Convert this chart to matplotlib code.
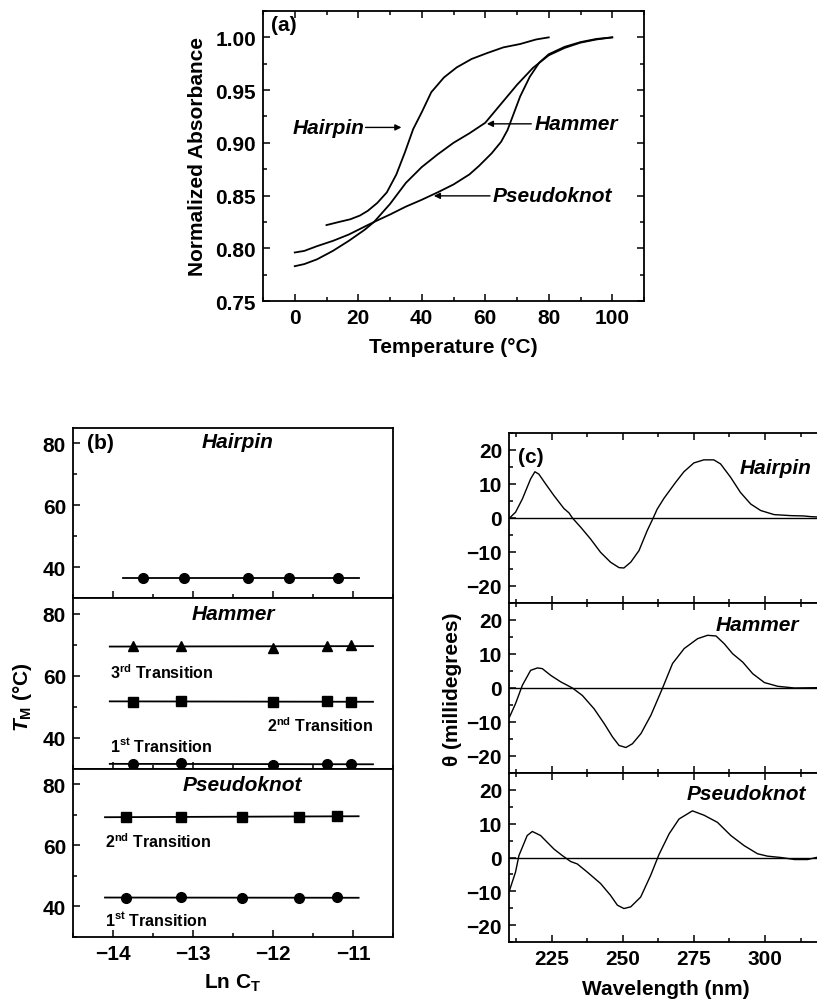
import matplotlib
matplotlib.use("Agg")
import matplotlib.pyplot as plt
import numpy as np
from matplotlib.ticker import MultipleLocator, FormatStrFormatter

plt.rcParams.update({
    "font.family": ["Liberation Sans", "DejaVu Sans"],
    "font.weight": "bold",
    "axes.labelweight": "bold",
    "font.size": 15,
    "mathtext.fontset": "custom",
    "mathtext.rm": "Liberation Sans:bold",
    "mathtext.it": "Liberation Sans:bold:italic",
    "mathtext.bf": "Liberation Sans:bold",
    "xtick.direction": "in",
    "ytick.direction": "in",
    "axes.linewidth": 1.3,
})

# ---------------- (a) melting curves ----------------
temp_hairpin = [10, 14, 17.5, 20.5, 23, 26, 29, 32, 34.7, 37.3, 40, 43, 47, 51,
                55.7, 60.5, 65.7, 71, 76, 80]
abs_hairpin = [0.822, 0.825, 0.8275, 0.831, 0.8355, 0.843, 0.853, 0.870, 0.891,
               0.913, 0.929, 0.948, 0.962, 0.9715, 0.9795, 0.985, 0.9905, 0.9937,
               0.998, 1.000]

temp_hammer = [0, 3, 7, 12, 17, 22, 25, 30, 35, 40, 45, 50, 55, 60, 65, 70, 75,
               80, 85, 90, 95, 100]
abs_hammer = [0.783, 0.785, 0.7895, 0.7975, 0.807, 0.8175, 0.825, 0.842, 0.862,
              0.877, 0.889, 0.900, 0.909, 0.919, 0.937, 0.955, 0.971, 0.983,
              0.990, 0.995, 0.998, 1.000]

temp_pseudo = [0, 3, 7, 12, 17, 22, 25, 30, 35, 40, 45, 50, 55, 58, 62, 65, 67,
               69, 71, 74, 77, 80, 85, 90, 95, 100]
abs_pseudo = [0.796, 0.7975, 0.802, 0.807, 0.813, 0.8205, 0.825, 0.832, 0.8395,
              0.846, 0.853, 0.8605, 0.870, 0.878, 0.890, 0.901, 0.912, 0.928,
              0.944, 0.9625, 0.976, 0.984, 0.991, 0.9955, 0.9985, 1.000]

# ---------------- (b) Tm vs ln CT ----------------
lnct_hairpin = [-13.63, -13.11, -12.31, -11.80, -11.19]
tm_hairpin = [36.5, 36.5, 36.5, 36.5, 36.5]
fit_range_hairpin = [-13.87, -10.93]

lnct_hammer = [-13.75, -13.15, -12.00, -11.32, -11.03]
tm_hammer_3rd = [69.5, 69.5, 69.0, 69.5, 69.8]
tm_hammer_2nd = [51.6, 52.0, 51.4, 51.8, 51.6]
tm_hammer_1st = [31.6, 31.8, 31.3, 31.5, 31.7]
fit_range_hammer = [-14.04, -10.75]

lnct_pseudo = [-13.84, -13.15, -12.39, -11.67, -11.20]
tm_pseudo_2nd = [69.3, 69.3, 69.3, 69.4, 69.6]
tm_pseudo_1st = [42.9, 43.0, 42.8, 42.7, 43.0]
fit_range_pseudo = [-14.10, -10.93]

# ---------------- (c) CD spectra ----------------
wl_hairpin = [210.2, 212.3, 214.7, 217.6, 219.1, 220.5, 222.9, 225.8, 229.3,
              231.1, 232.3, 235.2, 238.7, 242.2, 245.7, 248.7, 250.4, 252.8,
              255.7, 258.6, 260.7, 262.1, 264.5, 268.6, 271.5, 275.0, 278.5,
              282.0, 284.4, 287.9, 291.4, 295.0, 298.5, 303.2, 309.0, 313.7,
              316.1, 318.5]
cd_hairpin = [0.0, 1.7, 5.6, 11.5, 13.6, 12.9, 10.0, 6.6, 2.8, 1.5, 0.0, -2.7,
              -6.2, -10.1, -13.0, -14.6, -14.7, -13.0, -9.6, -3.7, 0.0, 2.6,
              5.8, 10.5, 13.6, 16.2, 17.1, 17.1, 15.9, 12.0, 7.5, 4.1, 2.2,
              1.0, 0.7, 0.6, 0.4, 0.3]

wl_hammer = [210.2, 212.3, 214.7, 217.6, 220.0, 221.7, 224.7, 228.2, 232.3,
             235.8, 239.9, 243.5, 246.4, 248.7, 251.1, 253.4, 256.4, 259.9,
             264.0, 267.5, 271.6, 276.3, 279.8, 282.8, 285.7, 288.6, 292.2,
             295.7, 299.8, 304.5, 310.4, 318.5]
cd_hammer = [-8.5, -4.6, 0.8, 5.2, 5.9, 5.7, 3.7, 1.8, 0.0, -2.2, -6.1, -10.5,
             -14.4, -16.9, -17.5, -16.4, -13.4, -8.0, 0.0, 7.2, 11.6, 14.5,
             15.5, 15.3, 13.0, 10.1, 7.6, 4.2, 1.6, 0.5, 0.0, 0.1]

wl_pseudo = [210.2, 212.3, 213.5, 216.4, 218.2, 221.1, 225.8, 228.7, 231.7,
             234.0, 237.5, 242.2, 245.7, 248.1, 250.4, 252.8, 256.3, 259.8,
             262.7, 266.3, 269.8, 274.5, 278.6, 283.3, 288.0, 292.7, 297.4,
             300.9, 305.6, 310.4, 315.0, 318.5]
cd_pseudo = [-9.7, -4.3, 0.6, 6.5, 7.7, 6.5, 2.5, 0.6, -1.2, -1.9, -4.3, -7.7,
             -11.2, -14.1, -15.1, -14.6, -11.7, -5.3, 0.8, 7.0, 11.4, 13.8,
             12.5, 10.4, 6.5, 3.5, 1.1, 0.4, 0.0, -0.6, -0.6, 0.1]

W, H = 817, 1003
fig = plt.figure(figsize=(W / 100, H / 100), dpi=100)


def box(left, top, right, bottom):
    return [left / W, 1 - bottom / H, (right - left) / W, (bottom - top) / H]


# ----- panel (a)
ax = fig.add_axes(box(263, 12, 644, 302))
for t, a in [(temp_hairpin, abs_hairpin), (temp_hammer, abs_hammer),
             (temp_pseudo, abs_pseudo)]:
    ax.plot(t, a, color="black", lw=1.3)
ax.set_xlim(-10, 110)
ax.set_ylim(0.75, 1.025)
ax.xaxis.set_major_locator(MultipleLocator(20))
ax.xaxis.set_minor_locator(MultipleLocator(10))
ax.yaxis.set_major_locator(MultipleLocator(0.05))
ax.yaxis.set_minor_locator(MultipleLocator(0.025))
ax.yaxis.set_major_formatter(FormatStrFormatter("%.2f"))
ax.tick_params(which="both", top=True, right=True, width=1.1)
ax.tick_params(which="major", length=5, pad=5)
ax.tick_params(which="minor", length=3)
ax.set_xlabel("Temperature (°C)", labelpad=7)
ax.set_ylabel("Normalized Absorbance", labelpad=6)
ax.text(0.02, 0.985, "(a)", transform=ax.transAxes, ha="left", va="top")
arrow = dict(arrowstyle="-|>", color="black", lw=1.0, mutation_scale=9,
             shrinkA=0, shrinkB=0)
ax.annotate("", xy=(33.6, 0.9146), xytext=(22.3, 0.9146), arrowprops=arrow)
ax.text(22, 0.9146, "Hairpin", ha="right", va="center", style="italic")
ax.annotate("", xy=(60.5, 0.918), xytext=(74.5, 0.918), arrowprops=arrow)
ax.text(75.5, 0.918, "Hammer", ha="left", va="center", style="italic")
ax.annotate("", xy=(43.8, 0.8497), xytext=(61.5, 0.8497), arrowprops=arrow)
ax.text(62.3, 0.8497, "Pseudoknot", ha="left", va="center", style="italic")

# ----- panel (b)
b_edges = [429, 599, 770, 938]
axes_b = []
for i in range(3):
    a = fig.add_axes(box(73, b_edges[i], 393, b_edges[i + 1]))
    a.set_xlim(-14.5, -10.5)
    a.set_ylim(30, 85)
    a.xaxis.set_major_locator(MultipleLocator(1))
    a.xaxis.set_minor_locator(MultipleLocator(0.5))
    a.yaxis.set_major_locator(MultipleLocator(20))
    a.yaxis.set_minor_locator(MultipleLocator(10))
    a.tick_params(which="both", width=1.1)
    a.tick_params(which="major", length=5, pad=5)
    a.tick_params(which="minor", length=3)
    if i < 2:
        a.tick_params(axis="x", labelbottom=False)
    axes_b.append(a)


def fit_line(ax_, xs, ys, span):
    k, c = np.polyfit(xs, ys, 1)
    xx = np.array(span)
    ax_.plot(xx, k * xx + c, color="black", lw=1.3, zorder=2)


bh, bm, bp = axes_b
fit_line(bh, lnct_hairpin, tm_hairpin, fit_range_hairpin)
bh.plot(lnct_hairpin, tm_hairpin, "o", color="black", ms=7, zorder=3)
bh.text(0.045, 0.97, "(b)", transform=bh.transAxes, ha="left", va="top")
bh.text(-12.44, 80.5, "Hairpin", ha="center", va="center", style="italic")

for tm, mk, ms in [(tm_hammer_3rd, "^", 7.5), (tm_hammer_2nd, "s", 6.5),
                   (tm_hammer_1st, "o", 7)]:
    fit_line(bm, lnct_hammer, tm, fit_range_hammer)
    bm.plot(lnct_hammer, tm, mk, color="black", ms=ms, zorder=3)
bm.text(-12.5, 80.0, "Hammer", ha="center", va="center", style="italic")
tsize = 11.5
bm.text(-14.04, 61.3, "3$^{\\mathrm{rd}}$ Transition", ha="left", va="center", fontsize=tsize)
bm.text(-10.75, 44.3, "2$^{\\mathrm{nd}}$ Transition", ha="right", va="center", fontsize=tsize)
bm.text(-14.04, 37.6, "1$^{\\mathrm{st}}$ Transition", ha="left", va="center", fontsize=tsize)

fit_line(bp, lnct_pseudo, tm_pseudo_2nd, fit_range_pseudo)
bp.plot(lnct_pseudo, tm_pseudo_2nd, "s", color="black", ms=6.5, zorder=3)
fit_line(bp, lnct_pseudo, tm_pseudo_1st, fit_range_pseudo)
bp.plot(lnct_pseudo, tm_pseudo_1st, "o", color="black", ms=7, zorder=3)
bp.text(-12.38, 80.0, "Pseudoknot", ha="center", va="center", style="italic")
bp.text(-14.1, 61.4, "2$^{\\mathrm{nd}}$ Transition", ha="left", va="center", fontsize=tsize)
bp.text(-14.1, 35.8, "1$^{\\mathrm{st}}$ Transition", ha="left", va="center", fontsize=tsize)
bp.set_xlabel("Ln C$_{\\mathrm{T}}$", labelpad=6)
fig.text(22 / W, 1 - 697 / H, "$T_{\\mathrm{M}}$ (°C)", rotation=90,
         ha="center", va="center")

# ----- panel (c)
c_edges = [434, 604, 774, 943]
axes_c = []
for i in range(3):
    a = fig.add_axes(box(509, c_edges[i], 509 + 110 * 2.844, c_edges[i + 1]))
    a.set_xlim(210, 320)
    a.set_ylim(-25, 25)
    a.axhline(0, color="black", lw=1.0)
    a.xaxis.set_major_locator(MultipleLocator(25))
    a.xaxis.set_minor_locator(MultipleLocator(12.5))
    a.yaxis.set_major_locator(MultipleLocator(10))
    a.yaxis.set_minor_locator(MultipleLocator(5))
    a.tick_params(which="both", top=True, width=1.1)
    a.tick_params(which="major", length=5, pad=5)
    a.tick_params(which="minor", length=3)
    a.spines["right"].set_visible(False)
    if i < 2:
        a.tick_params(axis="x", labelbottom=False)
    axes_c.append(a)

ch, cm, cp = axes_c
ch.plot(wl_hairpin, cd_hairpin, color="black", lw=1.0)
cm.plot(wl_hammer, cd_hammer, color="black", lw=1.0)
cp.plot(wl_pseudo, cd_pseudo, color="black", lw=1.0)
ch.text(0.03, 0.92, "(c)", transform=ch.transAxes, ha="left", va="top")
ch.text(316.5, 15.0, "Hairpin", ha="right", va="center", style="italic")
cm.text(312.0, 18.8, "Hammer", ha="right", va="center", style="italic")
cp.text(314.5, 19.0, "Pseudoknot", ha="right", va="center", style="italic")
cp.set_xlabel("Wavelength (nm)", labelpad=8)
fig.text(452 / W, 1 - 689 / H, "θ (millidegrees)", rotation=90,
         ha="center", va="center")

fig.savefig("out.png", dpi=100)
